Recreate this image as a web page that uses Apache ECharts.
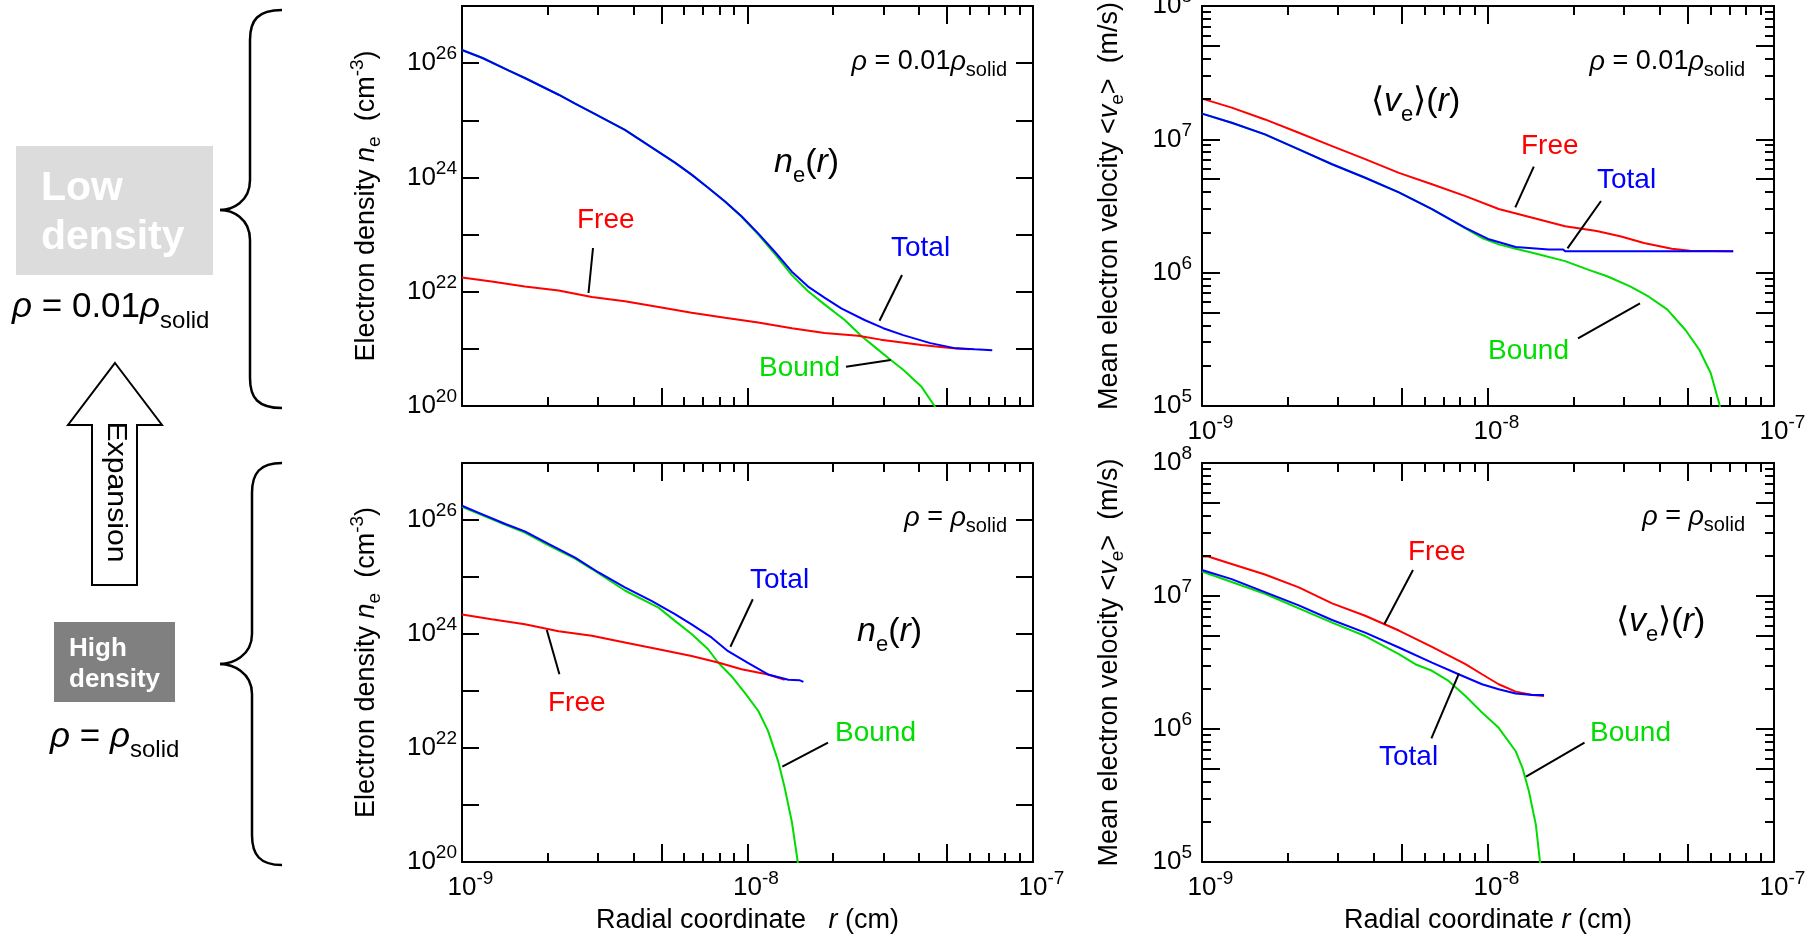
<!DOCTYPE html>
<html><head><meta charset="utf-8">
<script src="https://cdn.jsdelivr.net/npm/echarts@6/dist/echarts.min.js"></script>
<style>html,body{margin:0;padding:0;background:#fff}#c{width:1814px;height:937px}</style>
</head><body><div id="c"></div>
<script>
// ---------------- data (r in cm) ----------------
const neLowTotal = [[1.0e-9,1.7e26],[1.18e-9,1.23e26],[1.46e-9,7.4e25],[1.66e-9,5.5e25],[2.18e-9,2.8e25],[2.49e-9,1.95e25],[2.85e-9,1.38e25],[3.72e-9,6.8e24],[4.88e-9,2.8e24],[5.57e-9,1.82e24],[6.37e-9,1.12e24],[7.28e-9,6.6e23],[8.34e-9,3.8e23],[9.53e-9,2.09e23],[1.09e-8,1.05e23],[1.25e-8,4.9e22],[1.43e-8,2.24e22],[1.63e-8,1.23e22],[1.86e-8,7.9e21],[2.13e-8,5.1e21],[2.57e-8,3.2e21],[2.99e-8,2.3e21],[3.51e-8,1.74e21],[4.37e-8,1.26e21],[5.37e-8,1.02e21],[6.25e-8,9.8e20],[7.2e-8,9.5e20]];
const neLowFree = [[1.0e-9,1.78e22],[1.27e-9,1.51e22],[1.66e-9,1.23e22],[2.18e-9,1.05e22],[2.85e-9,8.1e21],[3.72e-9,6.8e21],[4.88e-9,5.4e21],[6.37e-9,4.3e21],[8.34e-9,3.5e21],[1.09e-8,2.9e21],[1.43e-8,2.3e21],[1.86e-8,1.9e21],[2.44e-8,1.7e21],[2.93e-8,1.45e21],[4.07e-8,1.17e21],[5.25e-8,1.02e21],[6.0e-8,9.8e20]];
const neLowBound = [[1.0e-9,1.7e26],[1.18e-9,1.23e26],[1.46e-9,7.4e25],[1.66e-9,5.5e25],[2.18e-9,2.8e25],[2.49e-9,1.95e25],[2.85e-9,1.38e25],[3.72e-9,6.8e24],[4.88e-9,2.8e24],[5.57e-9,1.82e24],[6.37e-9,1.12e24],[7.28e-9,6.6e23],[8.34e-9,3.8e23],[9.53e-9,2.05e23],[1.09e-8,1.01e23],[1.25e-8,4.5e22],[1.43e-8,1.95e22],[1.63e-8,1.02e22],[1.86e-8,6.0e21],[2.19e-8,3.2e21],[2.5e-8,1.7e21],[2.83e-8,1.02e21],[3.16e-8,6.5e20],[3.51e-8,4.3e20],[4.06e-8,2.2e20],[4.52e-8,1.0e20],[4.8e-8,6e19]];

const neHighTotal = [[1.0e-9,1.78e26],[1.14e-9,1.35e26],[1.42e-9,8.5e25],[1.66e-9,6.3e25],[2.01e-9,3.8e25],[2.49e-9,2.19e25],[3.01e-9,1.2e25],[3.72e-9,6.6e24],[4.61e-9,3.8e24],[5.57e-9,2.24e24],[6.37e-9,1.48e24],[7.48e-9,8.7e23],[8.55e-9,5.0e23],[1.0e-8,3.16e23],[1.18e-8,1.95e23],[1.39e-8,1.58e23],[1.52e-8,1.55e23],[1.57e-8,1.45e23]];
const neHighFree = [[1.0e-9,2.2e24],[1.27e-9,1.82e24],[1.66e-9,1.48e24],[2.18e-9,1.12e24],[2.85e-9,9.3e23],[3.72e-9,7.1e23],[4.88e-9,5.4e23],[6.37e-9,4.1e23],[7.89e-9,3.16e23],[9.53e-9,2.4e23],[1.18e-8,1.95e23],[1.35e-8,1.58e23]];
const neHighBound = [[1.0e-9,1.7e26],[1.14e-9,1.3e26],[1.42e-9,8.2e25],[1.66e-9,6.0e25],[2.01e-9,3.6e25],[2.49e-9,2.1e25],[2.85e-9,1.38e25],[3.72e-9,5.8e24],[4.88e-9,2.9e24],[5.57e-9,1.7e24],[6.37e-9,1.0e24],[7.28e-9,5.4e23],[7.89e-9,3.16e23],[8.79e-9,1.82e23],[9.79e-9,9.3e22],[1.09e-8,4.5e22],[1.18e-8,2.0e22],[1.28e-8,5.9e21],[1.35e-8,2.0e21],[1.43e-8,5.1e20],[1.50e-8,1.0e20],[1.53e-8,5e19]];

const vLowFree = [[1.0e-9,2.02e7],[1.27e-9,1.73e7],[1.66e-9,1.41e7],[2.18e-9,1.12e7],[2.85e-9,8.9e6],[3.72e-9,7.1e6],[4.88e-9,5.6e6],[6.37e-9,4.6e6],[8.34e-9,3.75e6],[1.09e-8,3.0e6],[1.43e-8,2.58e6],[1.86e-8,2.23e6],[2.4e-8,2.05e6],[2.92e-8,1.87e6],[3.51e-8,1.67e6],[4.39e-8,1.51e6],[5.08e-8,1.46e6],[7.2e-8,1.45e6]];
const vLowTotal = [[1.0e-9,1.56e7],[1.27e-9,1.33e7],[1.66e-9,1.09e7],[2.18e-9,8.4e6],[2.85e-9,6.5e6],[3.72e-9,5.15e6],[4.88e-9,4.0e6],[6.37e-9,3.0e6],[8.34e-9,2.17e6],[1.0e-8,1.79e6],[1.25e-8,1.56e6],[1.63e-8,1.49e6],[1.83e-8,1.49e6],[1.86e-8,1.45e6],[7.2e-8,1.45e6]];
const vLowBound = [[1.0e-9,1.56e7],[1.27e-9,1.33e7],[1.66e-9,1.09e7],[2.18e-9,8.4e6],[2.85e-9,6.5e6],[3.72e-9,5.15e6],[4.88e-9,4.0e6],[6.37e-9,3.0e6],[8.34e-9,2.15e6],[9.53e-9,1.82e6],[1.09e-8,1.63e6],[1.25e-8,1.51e6],[1.43e-8,1.41e6],[1.86e-8,1.22e6],[2.25e-8,1.05e6],[2.61e-8,9.4e5],[3.14e-8,7.9e5],[3.65e-8,6.6e5],[4.23e-8,5.3e5],[4.91e-8,3.7e5],[5.48e-8,2.64e5],[6.01e-8,1.76e5],[6.47e-8,1.0e5],[6.6e-8,8e4]];

const vHighFree = [[1.0e-9,1.98e7],[1.05e-9,1.98e7],[1.27e-9,1.74e7],[1.66e-9,1.45e7],[2.18e-9,1.16e7],[2.85e-9,8.8e6],[3.72e-9,7.1e6],[4.88e-9,5.5e6],[6.37e-9,4.15e6],[8.34e-9,3.07e6],[9.53e-9,2.58e6],[1.09e-8,2.17e6],[1.25e-8,1.91e6],[1.43e-8,1.80e6],[1.57e-8,1.77e6]];
const vHighTotal = [[1.0e-9,1.57e7],[1.27e-9,1.34e7],[1.66e-9,1.07e7],[2.18e-9,8.5e6],[2.85e-9,6.6e6],[3.72e-9,5.3e6],[4.88e-9,4.1e6],[6.37e-9,3.16e6],[7.89e-9,2.58e6],[9.53e-9,2.17e6],[1.09e-8,1.99e6],[1.25e-8,1.85e6],[1.43e-8,1.80e6],[1.57e-8,1.80e6]];
const vHighBound = [[1.0e-9,1.53e7],[1.66e-9,1.04e7],[2.85e-9,6.3e6],[3.72e-9,5.0e6],[4.88e-9,3.66e6],[5.57e-9,3.07e6],[6.37e-9,2.74e6],[7.28e-9,2.30e6],[8.34e-9,1.77e6],[9.53e-9,1.33e6],[1.09e-8,1.02e6],[1.25e-8,6.8e5],[1.32e-8,5.1e5],[1.39e-8,3.4e5],[1.47e-8,1.91e5],[1.52e-8,1.0e5],[1.54e-8,8e4]];

// axis ranges and tick values
const R_RANGE = [1e-9, 1e-7];
const NE_RANGE = [1e20, 1e27];
const V_RANGE = [1e5, 1e8];
const xTickLong = [5e-9, 5e-8];
const xTickShort = [2e-9,3e-9,4e-9,6e-9,7e-9,8e-9,9e-9,2e-8,3e-8,4e-8,6e-8,7e-8,8e-8,9e-8];
const vTickLong = [5e5, 5e6, 5e7];
const vTickShort = [2e5,3e5,4e5,6e5,7e5,8e5,9e5,2e6,3e6,4e6,6e6,7e6,8e6,9e6,2e7,3e7,4e7,6e7,7e7,8e7,9e7];

// ---------------- styling ----------------
const FONT = '"Liberation Sans", Arial, Helvetica, sans-serif';
const RED = '#ff0000', BLUE = '#0000ff', GREEN = '#00dd00';

const grids = [
  {left: 462, top: 6, width: 571, height: 400},
  {left: 462, top: 463, width: 571, height: 399},
  {left: 1202, top: 6, width: 572, height: 400},
  {left: 1202, top: 463, width: 572, height: 399}
].map(g => Object.assign(g, {containLabel: false, outerBoundsMode: 'none'}));

const tickRich = {
  b: {fontSize: 26, fontFamily: FONT, color: '#000'},
  sup: {fontSize: 19, fontFamily: FONT, color: '#000', padding: [0, 0, 18, 0]},
  sp: {fontSize: 19, fontFamily: FONT, color: 'rgba(0,0,0,0)', padding: [0, 0, 18, 0]}
};
const nameRich = {
  a: {fontSize: 27, fontFamily: FONT, color: '#000'},
  i: {fontSize: 27, fontFamily: FONT, color: '#000', fontStyle: 'italic'},
  sub: {fontSize: 19, fontFamily: FONT, color: '#000', padding: [16, 0, 0, 0]},
  sup: {fontSize: 19, fontFamily: FONT, color: '#000', padding: [0, 0, 18, 0]}
};
const expOf = v => Math.round(Math.log10(v));

function xAxisCfg(g, top, labels, name) {
  return {
    type: 'log', logBase: 10, gridIndex: g, min: R_RANGE[0], max: R_RANGE[1],
    position: top ? 'top' : 'bottom',
    axisLine: {show: true, onZero: false, lineStyle: {color: '#000', width: 2}},
    axisTick: {show: true, inside: true, length: 18, lineStyle: {color: '#000', width: 2}},
    axisLabel: {show: !!labels, margin: 7, hideOverlap: false, rich: tickRich,
      formatter: v => { const e = expOf(v); return '{sp|' + e + '}{b|10}{sup|' + e + '}'; }},
    splitLine: {show: false}, minorTick: {show: false}, minorSplitLine: {show: false},
    name: name || '', nameLocation: 'middle', nameGap: 45, nameMoveOverlap: false,
    nameTextStyle: {fontSize: 27, fontFamily: FONT, color: '#000', rich: nameRich},
    axisPointer: {show: false}, silent: true
  };
}
function yAxisCfg(g, right, range, evenOnly, margin, name, nameGap, tickLen) {
  return {
    type: 'log', logBase: 10, gridIndex: g, min: range[0], max: range[1],
    position: right ? 'right' : 'left',
    axisLine: {show: true, onZero: false, lineStyle: {color: '#000', width: 2}},
    axisTick: {show: true, inside: true, length: tickLen, lineStyle: {color: '#000', width: 2}},
    axisLabel: {show: !right, margin: margin, hideOverlap: false, rich: tickRich,
      formatter: v => { const e = expOf(v); return (evenOnly && e % 2 !== 0) ? '' : '{b|10}{sup|' + e + '}'; }},
    splitLine: {show: false}, minorTick: {show: false}, minorSplitLine: {show: false},
    name: name || '', nameLocation: 'middle', nameRotate: 90, nameGap: nameGap || 0, nameMoveOverlap: false,
    nameTextStyle: {fontSize: 27, fontFamily: FONT, color: '#000', rich: nameRich},
    axisPointer: {show: false}, silent: true
  };
}

const neName = '{a|Electron density }{i|n}{sub|e}{a|  (cm}{sup|-3}{a|)}';
const vName = '{a|Mean electron velocity <}{i|v}{sub|e}{a|>  (m/s)}';

const xAxes = [
  xAxisCfg(0, false, false, ''),
  xAxisCfg(1, false, true, '{a|Radial coordinate   }{i|r}{a| (cm)}'),
  xAxisCfg(2, false, true, ''),
  xAxisCfg(3, false, true, '{a|Radial coordinate }{i|r}{a| (cm)}'),
  xAxisCfg(0, true), xAxisCfg(1, true), xAxisCfg(2, true), xAxisCfg(3, true)
];
const yAxes = [
  yAxisCfg(0, false, NE_RANGE, true, 5, neName, 77, 17),
  yAxisCfg(1, false, NE_RANGE, true, 5, neName, 77, 17),
  yAxisCfg(2, false, V_RANGE, false, 10, vName, 75, 18),
  yAxisCfg(3, false, V_RANGE, false, 10, vName, 75, 18),
  yAxisCfg(0, true, NE_RANGE, true, 5, '', 0, 17),
  yAxisCfg(1, true, NE_RANGE, true, 5, '', 0, 17),
  yAxisCfg(2, true, V_RANGE, false, 10, '', 0, 18),
  yAxisCfg(3, true, V_RANGE, false, 10, '', 0, 18)
];

function lineS(g, data, color) {
  return {type: 'line', xAxisIndex: g, yAxisIndex: g, data: data, showSymbol: false, symbol: 'none',
    lineStyle: {color: color, width: 2}, itemStyle: {color: color}, silent: true, clip: true, z: 2};
}
function tickS(g, yRange, withYMinor) {
  const yMid = Math.sqrt(yRange[0] * yRange[1]);
  const xMid = Math.sqrt(R_RANGE[0] * R_RANGE[1]);
  let items = xTickLong.map(v => [v, yMid, 0, 18]).concat(xTickShort.map(v => [v, yMid, 0, 9]));
  if (withYMinor) items = items.concat(vTickLong.map(v => [xMid, v, 1, 18]), vTickShort.map(v => [xMid, v, 1, 9]));
  return {
    type: 'custom', xAxisIndex: g, yAxisIndex: g, silent: true, clip: false, z: 5,
    renderItem: (params, api) => {
      const cs = params.coordSys;
      const o = api.value(2), len = api.value(3);
      const p = api.coord([api.value(0), api.value(1)]);
      const st = {stroke: '#000', lineWidth: 2};
      if (o === 0) {
        const x = Math.round(p[0]);
        return {type: 'group', children: [
          {type: 'line', shape: {x1: x, y1: cs.y + cs.height, x2: x, y2: cs.y + cs.height - len}, style: st},
          {type: 'line', shape: {x1: x, y1: cs.y, x2: x, y2: cs.y + len}, style: st}
        ]};
      }
      const y = Math.round(p[1]);
      return {type: 'group', children: [
        {type: 'line', shape: {x1: cs.x, y1: y, x2: cs.x + len, y2: y}, style: st},
        {type: 'line', shape: {x1: cs.x + cs.width, y1: y, x2: cs.x + cs.width - len, y2: y}, style: st}
      ]};
    },
    data: items
  };
}

const series = [
  lineS(0, neLowBound, GREEN), lineS(0, neLowFree, RED), lineS(0, neLowTotal, BLUE), tickS(0, NE_RANGE, false),
  lineS(1, neHighBound, GREEN), lineS(1, neHighFree, RED), lineS(1, neHighTotal, BLUE), tickS(1, NE_RANGE, false),
  lineS(2, vLowBound, GREEN), lineS(2, vLowFree, RED), lineS(2, vLowTotal, BLUE), tickS(2, V_RANGE, true),
  lineS(3, vHighBound, GREEN), lineS(3, vHighFree, RED), lineS(3, vHighTotal, BLUE), tickS(3, V_RANGE, true)
];

// ---------------- annotations ----------------
function rich(main, sub, subPad, fill) {
  return {
    n: {fontFamily: FONT, fontSize: main, fill: fill},
    i: {fontFamily: FONT, fontSize: main, fill: fill, fontStyle: 'italic'},
    sub: {fontFamily: FONT, fontSize: sub, fill: fill, padding: [subPad, 0, 0, 0]}
  };
}
function T(x, y, text, size, fill, bold) {
  return {type: 'text', x: x, y: y, silent: true, z: 10,
    style: {text: text, fill: fill || '#000', fontFamily: FONT, fontSize: size, fontWeight: bold ? 'bold' : 'normal', align: 'left', verticalAlign: 'middle'}};
}
function RT(x, y, text, main, sub, pad, align) {
  return {type: 'text', x: x, y: y, silent: true, z: 10,
    style: {text: text, fill: '#000', fontFamily: FONT, fontSize: main, align: align || 'left', verticalAlign: 'middle', rich: rich(main, sub, pad, '#000')}};
}
function L(x1, y1, x2, y2) {
  return {type: 'line', silent: true, z: 10, shape: {x1: x1, y1: y1, x2: x2, y2: y2}, style: {stroke: '#000', lineWidth: 2}};
}
function brace(x0, xm, xt, y0, yt, y1) {
  const r = 30;
  const st = {stroke: '#000', lineWidth: 2.5, fill: null};
  const bz = (x1, y1, c1x, c1y, c2x, c2y, x2, y2) => ({type: 'bezierCurve', silent: true,
    shape: {x1: x1, y1: y1, cpx1: c1x, cpy1: c1y, cpx2: c2x, cpy2: c2y, x2: x2, y2: y2}, style: st});
  const ln = (x1, y1, x2, y2) => ({type: 'line', silent: true, shape: {x1: x1, y1: y1, x2: x2, y2: y2}, style: st});
  return {type: 'group', children: [
    bz(x0, y0, xm + 8, y0, xm, y0 + 10, xm, y0 + r),
    ln(xm, y0 + r, xm, yt - r),
    bz(xm, yt - r, xm, yt - 8, xt + 12, yt, xt, yt),
    bz(xt, yt, xt + 12, yt, xm, yt + 8, xm, yt + r),
    ln(xm, yt + r, xm, y1 - r),
    bz(xm, y1 - r, xm, y1 - 10, xm + 8, y1, x0, y1)
  ]};
}

const rhoLow = '{i|ρ}{n| = 0.01}{i|ρ}{sub|solid}';
const rhoHigh = '{i|ρ}{n| = }{i|ρ}{sub|solid}';
const neLabel = '{i|n}{sub|e}{n|(}{i|r}{n|)}';
const vLabel = '{n|⟨}{i|v}{sub|e}{n|⟩(}{i|r}{n|)}';

const graphic = [
  // left-side legend
  {type: 'rect', silent: true, shape: {x: 16, y: 146, width: 197, height: 129}, style: {fill: '#dcdcdc'}},
  T(41, 189, 'Low', 41, '#fff', true),
  T(41, 238, 'density', 41, '#fff', true),
  RT(12, 307, rhoLow, 35, 24, 28, 'left'),
  brace(282, 250, 220, 10, 210, 408),
  {type: 'polygon', silent: true, shape: {points: [[115, 363], [162, 425], [137, 425], [137, 585], [92, 585], [92, 425], [68, 425]]},
    style: {fill: '#fff', stroke: '#000', lineWidth: 2}},
  {type: 'text', silent: true, x: 115, y: 492, rotation: -Math.PI / 2, scaleX: 1.12,
    style: {text: 'Expansion', fill: '#000', fontFamily: FONT, fontSize: 27, align: 'center', verticalAlign: 'middle'}},
  {type: 'rect', silent: true, shape: {x: 54, y: 622, width: 121, height: 80}, style: {fill: '#808080'}},
  T(69, 649, 'High', 26, '#fff', true),
  T(69, 680, 'density', 26, '#fff', true),
  RT(50, 737, rhoHigh, 35, 24, 26, 'left'),
  brace(282, 252, 220, 463, 664, 865),

  // panel 1
  RT(1007, 62, rhoLow, 27, 20, 17, 'right'),
  RT(774, 163, neLabel, 34, 22, 26, 'left'),
  T(577, 220, 'Free', 28, RED), L(593, 248, 588.5, 293),
  T(891, 248, 'Total', 28, BLUE), L(902, 275, 879.5, 320.7),
  T(759, 368, 'Bound', 28, GREEN), L(846, 366.7, 890.7, 360),
  // panel 2
  RT(1007, 518, rhoHigh, 27, 20, 17, 'right'),
  RT(857, 632, neLabel, 34, 22, 26, 'left'),
  T(750, 580, 'Total', 28, BLUE), L(752.8, 599.3, 730.4, 646.7),
  T(548, 703, 'Free', 28, RED), L(546.8, 630, 559.4, 674.3),
  T(835, 733, 'Bound', 28, GREEN), L(828, 742.7, 782.3, 766.7),
  // panel 3
  RT(1745, 62, rhoLow, 27, 20, 17, 'right'),
  RT(1371, 102, vLabel, 34, 22, 26, 'left'),
  T(1521, 146, 'Free', 28, RED), L(1533.8, 166.7, 1515.3, 207.3),
  T(1597, 180, 'Total', 28, BLUE), L(1601, 201, 1567.5, 248.3),
  T(1488, 351, 'Bound', 28, GREEN), L(1578, 338.3, 1640, 303.3),
  // panel 4
  RT(1745, 517, rhoHigh, 27, 20, 17, 'right'),
  RT(1616, 622, vLabel, 34, 22, 26, 'left'),
  T(1408, 552, 'Free', 28, RED), L(1413, 570, 1384.3, 624.3),
  T(1379, 757, 'Total', 28, BLUE), L(1431.4, 738.3, 1459, 673.3),
  T(1590, 733, 'Bound', 28, GREEN), L(1584.5, 742.7, 1526, 776.7)
];

const chart = echarts.init(document.getElementById('c'), null, {renderer: 'canvas', width: 1814, height: 937});
chart.setOption({
  backgroundColor: '#ffffff',
  animation: false,
  grid: grids,
  xAxis: xAxes,
  yAxis: yAxes,
  series: series,
  graphic: graphic
});
</script></body></html>
